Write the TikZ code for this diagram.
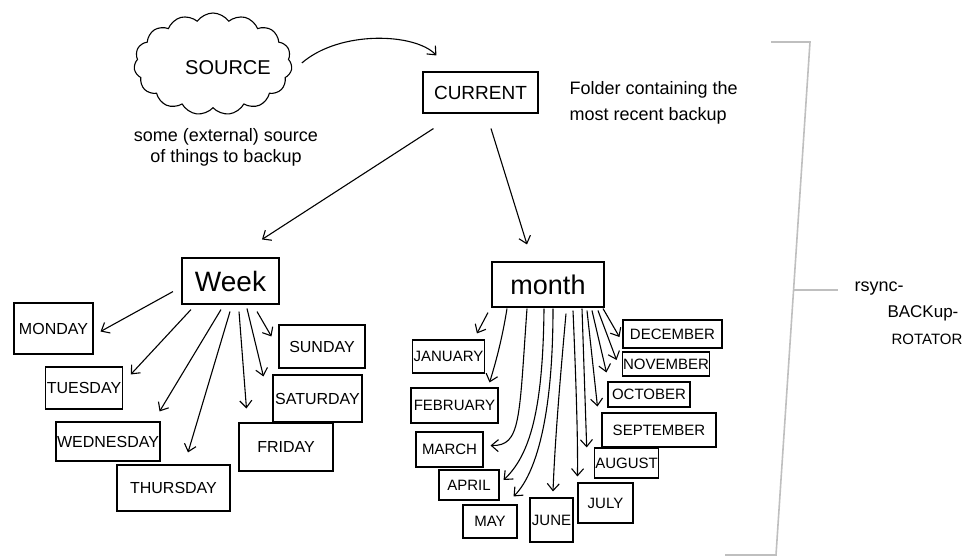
\documentclass[tikz,border=0pt]{standalone}
\usepackage{fontspec}
\setmainfont{Liberation Sans}
\usetikzlibrary{arrows.meta,shapes.symbols,calc}
\begin{document}
\begin{tikzpicture}[x=1pt,y=-1pt,
  fs/.style={font=\fontsize{#1}{#1}\selectfont},
  box/.style={draw,line width=1.1pt,inner sep=1pt},
  wd/.style={box,fs=16},
  mo/.style={box,fs=15},
  arr/.style={line width=1.1pt,-{Straight Barb[length=7pt,width=12pt]}},
  brk/.style={draw=black!25,line width=1.6pt},
]
\useasboundingbox (0,0) rectangle (967,557);

% top
\node[cloud,draw,line width=1.1pt,cloud puffs=15,cloud puff arc=110,aspect=1.5,
      minimum width=158pt,minimum height=102pt,inner sep=0pt] (src) at (213,64) {};
\node[fs=20] (srct) at (228,68) {SOURCE};
\node[align=center,font=\fontsize{18}{21}\selectfont] (srccap) at (226,147) {some (external) source\\of things to backup};
\node[box,fs=19,minimum width=115pt,minimum height=41pt] (cur) at (480.5,92.5) {CURRENT};
\node[align=left,font=\fontsize{18}{26}\selectfont,anchor=west] (curcap) at (566,103) {Folder containing the\\most recent backup};

% week
\node[box,fs=28,minimum width=97pt,minimum height=46pt] (week) at (230.5,281) {Week};
\node[wd,minimum width=79pt,minimum height=51pt] (mon) at (53.5,328.5) {MONDAY};
\node[wd,minimum width=76pt,minimum height=42pt] (tue) at (84,388) {TUESDAY};
\node[wd,minimum width=104pt,minimum height=39pt] (wed) at (108,441.5) {WEDNESDAY};
\node[wd,minimum width=113pt,minimum height=46pt] (thu) at (173.5,488) {THURSDAY};
\node[wd,minimum width=94pt,minimum height=48pt] (fri) at (286,447) {FRIDAY};
\node[wd,minimum width=89pt,minimum height=47pt] (sat) at (317.5,398.5) {SATURDAY};
\node[wd,minimum width=86pt,minimum height=43pt] (sun) at (322,346.5) {SUNDAY};

% month
\node[box,fs=27,minimum width=112pt,minimum height=45pt] (month) at (548,284.5) {month};
\node[mo,minimum width=71pt,minimum height=33pt] (jan) at (448.5,356.5) {JANUARY};
\node[mo,minimum width=87pt,minimum height=35pt] (feb) at (454.5,405.5) {FEBRUARY};
\node[mo,minimum width=67pt,minimum height=35pt] (mar) at (449.5,449.5) {MARCH};
\node[mo,minimum width=60pt,minimum height=30pt] (apr) at (469,485) {APRIL};
\node[mo,minimum width=54pt,minimum height=33pt] (may) at (490,521.5) {MAY};
\node[mo,minimum width=43pt,minimum height=44pt] (jun) at (551.5,520) {JUNE};
\node[mo,minimum width=55pt,minimum height=40pt] (jul) at (605.5,503) {JULY};
\node[mo,minimum width=63pt,minimum height=30pt] (aug) at (626.5,463) {AUGUST};
\node[mo,minimum width=114pt,minimum height=34pt] (sep) at (659,430) {SEPTEMBER};
\node[mo,minimum width=82pt,minimum height=25pt] (oct) at (649,394.5) {OCTOBER};
\node[mo,minimum width=86pt,minimum height=24pt] (nov) at (666,364) {NOVEMBER};
\node[mo,minimum width=99pt,minimum height=28pt] (dec) at (672.5,334) {DECEMBER};

% main arrows
\draw[arr] ($(src.east)+(10,-1)$) .. controls (340,30) and (415,33) .. ($(cur.north west)+(14,-16)$);
\draw[arr] ($(cur.south west)+(11,15)$) -- ($(week.north)+(31.5,-18)$);
\draw[arr] ($(cur.south)+(10.5,15)$) -- ($(month.north)+(-21,-17)$);

% week arrows
\draw[arr] ($(week.south)+(-57.5,-13)$) -- ($(mon.east)+(7,3)$);
\draw[arr] ($(week.south)+(-39.5,5)$) -- ($(tue.north east)+(8,8)$);
\draw[arr] ($(week.south)+(-9.5,5)$) -- ($(wed.north east)+(-1,-10)$);
\draw[arr] ($(week.south)+(-0.5,7)$) -- ($(thu.north)+(14.5,-12)$);
\draw[arr] ($(week.south)+(8.5,7)$) -- ($(fri.north west)+(8,-14)$);
\draw[arr] ($(week.south)+(16.5,4)$) -- ($(sat.north west)+(-9,2)$);
\draw[arr] ($(week.south)+(26.5,7)$) -- ($(sun.north west)+(-7,12)$);

% month arrows
\draw[arr] ($(month.south)+(-60,5)$) -- ($(jan.north east)+(-8,-6)$);
\draw[arr] ($(month.south)+(-41,1)$) .. controls (502,340) and (495,365) .. ($(feb.north east)+(-9,-5)$);
\draw[arr] ($(month.south)+(-21,1)$) .. controls (519,420) and (521,446) .. ($(mar.east)+(7,-4)$);
\draw[arr] ($(month.south)+(-4,1)$) .. controls (543,410) and (530,455) .. ($(apr.east)+(4,-5)$);
\draw[arr] ($(month.south)+(5,1)$) .. controls (553,420) and (535,475) .. ($(may.north east)+(-4,-8)$);
\draw[arr] ($(month.south)+(18,6)$) .. controls (560,380) and (555,440) .. ($(jun.north)+(1.5,-6)$);
\draw[arr] ($(month.south)+(25,3)$) .. controls (576,380) and (578,440) .. ($(jul.north west)+(0,-6)$);
\draw[arr] ($(month.south)+(34,1)$) -- ($(aug.north west)+(-7,0)$);
\draw[arr] ($(month.south)+(39,3)$) -- ($(sep.north west)+(-4,-6)$);
\draw[arr] ($(month.south)+(44,3)$) -- ($(oct.north west)+(-1,-9)$);
\draw[arr] ($(month.south)+(50,3)$) -- ($(nov.west)+(-5,-4)$);
\draw[arr] ($(month.south)+(55,1)$) -- ($(dec.west)+(-3,3)$);

% bracket
\draw[brk] (771,42) -- (810,42) -- (776,555) -- (725,555);
\node[fs=18,anchor=west] (rs1) at (851,289) {rsync-};
\node[fs=17,anchor=west] (rs2) at (884,313) {BACKup-};
\node[fs=15,anchor=east] (rs3) at (966,339) {ROTATOR};
\draw[brk] (793.6,290) -- ($(rs1.west)+(-13,1)$);
\end{tikzpicture}
\end{document}
